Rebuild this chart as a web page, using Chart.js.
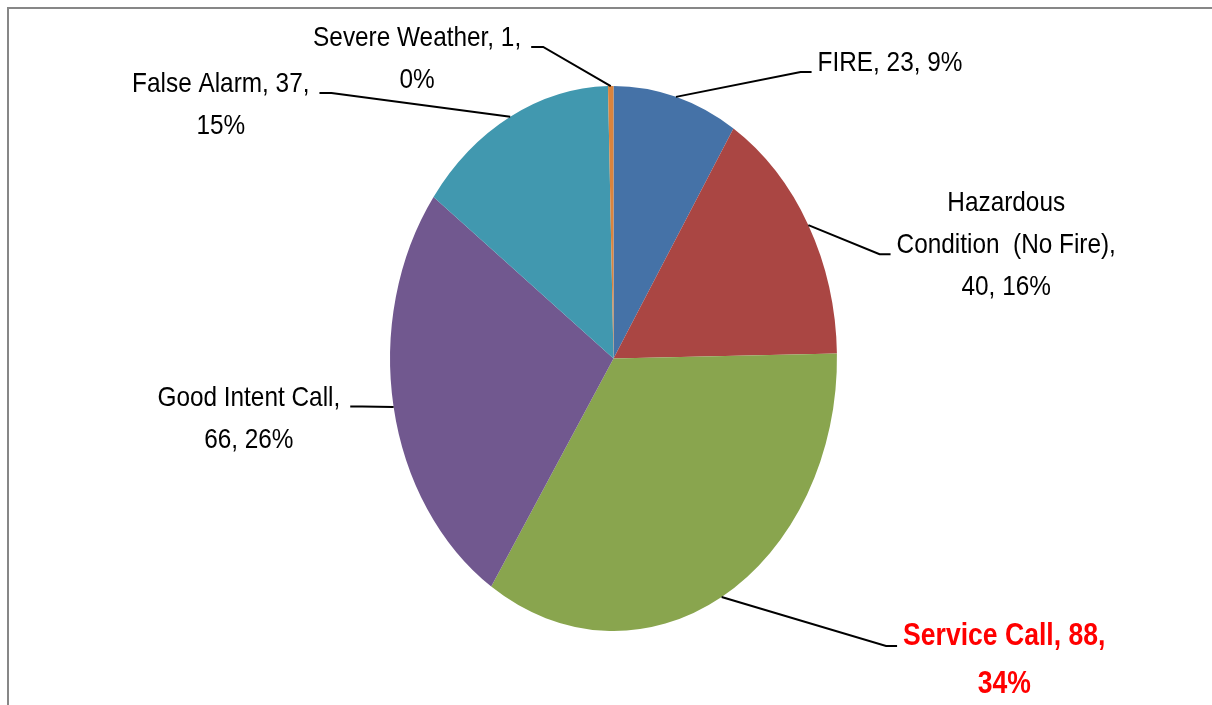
<!DOCTYPE html>
<html>
<head>
<meta charset="utf-8">
<script src="https://cdn.jsdelivr.net/npm/chart.js@4/dist/chart.umd.min.js"></script>
<style>
  html, body { margin: 0; padding: 0; background: #fff; }
  #wrap { width: 1212px; height: 705px; }
</style>
</head>
<body>
<div id="wrap"><canvas id="pieChart" width="1212" height="705"></canvas></div>
<script>
// data
const categories = ['FIRE', 'Hazardous Condition  (No Fire)', 'Service Call', 'Good Intent Call', 'False Alarm', 'Severe Weather'];
const counts = [23, 40, 88, 66, 37, 1];
const percents = ['9%', '16%', '34%', '26%', '15%', '0%'];
const colors = ['#4572A7', '#AA4643', '#89A54E', '#71588F', '#4198AF', '#DB843D'];

// label layout: words per line, block centre / first baseline relative to pie centre
const wordsPerLine = [[3], [1, 3, 2], [3, 1], [3, 2], [3, 1], [3, 1]];
const labelOffset = [[276, -287], [392, -147], [390, 286], [-364, 47], [-392, -266], [-196, -312]];
const highlight = 2; // Service Call in red bold

const SQUISH = 0.82; // the picture is narrower than tall

function labelLines(i) {
    const words = (categories[i] + ', ' + counts[i] + ', ' + percents[i]).split(/ (?! )/);
    const out = [];
    let k = 0;
    wordsPerLine[i].forEach(n => {
        out.push(words.slice(k, k + n).join(' '));
        k += n;
    });
    return out;
}

//plugins
const frame = {
    id: 'frame',
    beforeDraw(chart) {
        const ctx = chart.ctx;
        ctx.save();
        ctx.fillStyle = '#fff';
        ctx.fillRect(0, 0, chart.width, chart.height);
        ctx.fillStyle = '#878787';
        ctx.fillRect(7, 7, chart.width, 2);
        ctx.fillRect(7, 7, 2, chart.height);
        ctx.restore();
    }
};

const squish = {
    id: 'squish',
    beforeDatasetsDraw(chart) {
        const arc = chart.getDatasetMeta(0).data[0];
        const ctx = chart.ctx;
        ctx.save();
        ctx.translate(arc.x, 0);
        ctx.scale(SQUISH, 1);
        ctx.translate(-arc.x, 0);
    },
    afterDatasetsDraw(chart) {
        chart.ctx.restore();
    }
};

const leaderLabels = {
    id: 'leaderLabels',
    afterDraw(chart) {
        const ctx = chart.ctx;
        const arcs = chart.getDatasetMeta(0).data;
        ctx.save();
        arcs.forEach((arc, i) => {
            const r = arc.outerRadius;
            const k = r / 272;
            const mid = (arc.startAngle + arc.endAngle) / 2;
            const sx0 = arc.x + SQUISH * r * Math.cos(mid);
            const sy0 = arc.y + r * Math.sin(mid);

            const bold = i === highlight;
            const size = bold ? 32 : 28;
            const sx = bold ? 0.83 : 0.87;
            const lineH = bold ? 48 : 42;
            ctx.font = (bold ? 'bold ' : '') + size + 'px "Liberation Sans", Arial, sans-serif';
            const lines = labelLines(i);
            const cx = arc.x + labelOffset[i][0] * k;
            const base = arc.y + labelOffset[i][1] * k;
            const w = Math.max(...lines.map(t => ctx.measureText(t).width)) * sx;

            // leader line
            const right = cx > arc.x;
            const ay = base + Math.floor((lines.length - 1) / 2) * lineH + 1;
            const elbowX = right ? cx - w / 2 - 17 : cx + w / 2 + 22;
            const endX = right ? cx - w / 2 - 6 : cx + w / 2 + 10;
            ctx.strokeStyle = '#000';
            ctx.lineWidth = 2;
            ctx.beginPath();
            ctx.moveTo(sx0, sy0);
            ctx.lineTo(elbowX, ay);
            ctx.lineTo(endX, ay);
            ctx.stroke();

            ctx.fillStyle = bold ? '#FF0000' : '#000';
            ctx.textAlign = 'center';
            ctx.textBaseline = 'alphabetic';
            lines.forEach((t, n) => {
                ctx.save();
                ctx.translate(cx, base + n * lineH);
                ctx.scale(sx, 1);
                ctx.fillText(t, 0, 0);
                ctx.restore();
            });
        });
        ctx.restore();
    }
};

//config
const config = {
    type: 'pie',
    data: {
        labels: categories,
        datasets: [{
            data: counts,
            backgroundColor: colors,
            borderWidth: 0
        }]
    },
    options: {
        responsive: false,
        animation: false,
        layout: {
            padding: { top: 86, bottom: 74, left: 341, right: 326 }
        },
        plugins: {
            legend: { display: false },
            tooltip: { enabled: false }
        }
    },
    plugins: [frame, squish, leaderLabels]
};

//rendering
const myChart = new Chart(document.getElementById('pieChart'), config);
</script>
</body>
</html>
